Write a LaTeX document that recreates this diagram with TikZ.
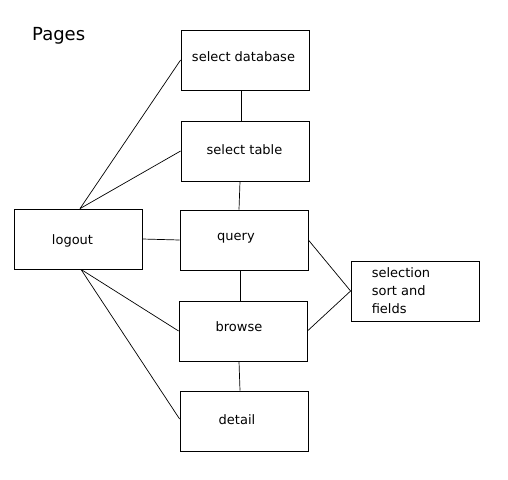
\documentclass[tikz,border=0pt]{standalone}
\usepackage{fontspec}
\setmainfont{DejaVu Sans}

\begin{document}
\begin{tikzpicture}[x=1pt,y=-1pt,
  page/.style={draw,line width=0.8pt,minimum width=128pt,minimum height=60pt,inner sep=0pt},
  link/.style={line width=0.7pt},
  every label/.style={font=\fontsize{13}{15}\selectfont,inner sep=0pt}]
\path (0,0) rectangle (508,479);
\node[anchor=west,inner sep=0pt,font=\fontsize{18}{20}\selectfont] (title) at (32,36) {Pages};
\node[page,label={[xshift=-1.5pt,yshift=3pt]center:select database}] (sdb) at (245,60) {};
\node[page,label={[xshift=-0.5pt,yshift=1pt]center:select table}] (stab) at (245,151) {};
\node[page,label={[xshift=-5.5pt,yshift=-2pt]center:logout}] (logout) at (78,239) {};
\node[page,label={[xshift=-8pt,yshift=2pt]center:query}] (query) at (244,240) {};
\node[page,label={[xshift=-4pt,yshift=4pt]center:browse}] (browse) at (243,331) {};
\node[page,label={[xshift=-7pt,yshift=1pt]center:detail}] (detail) at (244,421) {};
\node[page,label={[anchor=west,align=left,xshift=21pt,font=\fontsize{13}{18}\selectfont]west:selection\\sort and\\fields}] (sel) at (415,291) {};
% chain of pages
\draw[link] ([xshift=-4pt]sdb.south) -- ([xshift=-4pt]stab.north);
\draw[link] ([xshift=-5pt]stab.south) -- ([xshift=-5pt]query.north);
\draw[link] ([xshift=-4pt]query.south) -- ([xshift=-3pt]browse.north);
\draw[link] ([xshift=-4pt]browse.south) -- ([xshift=-4pt]detail.north);
% logout links
\draw[link] ([xshift=2pt]logout.north) -- (sdb.west);
\draw[link] ([xshift=2pt]logout.north) -- (stab.west);
\draw[link] (logout.east) -- (query.west);
\draw[link] ([xshift=3pt]logout.south) -- (browse.west);
\draw[link] ([xshift=3pt]logout.south) -- ([yshift=2pt]detail.west);
% options
\draw[link] (query.east) -- (sel.west);
\draw[link] (browse.east) -- (sel.west);
\end{tikzpicture}
\end{document}
